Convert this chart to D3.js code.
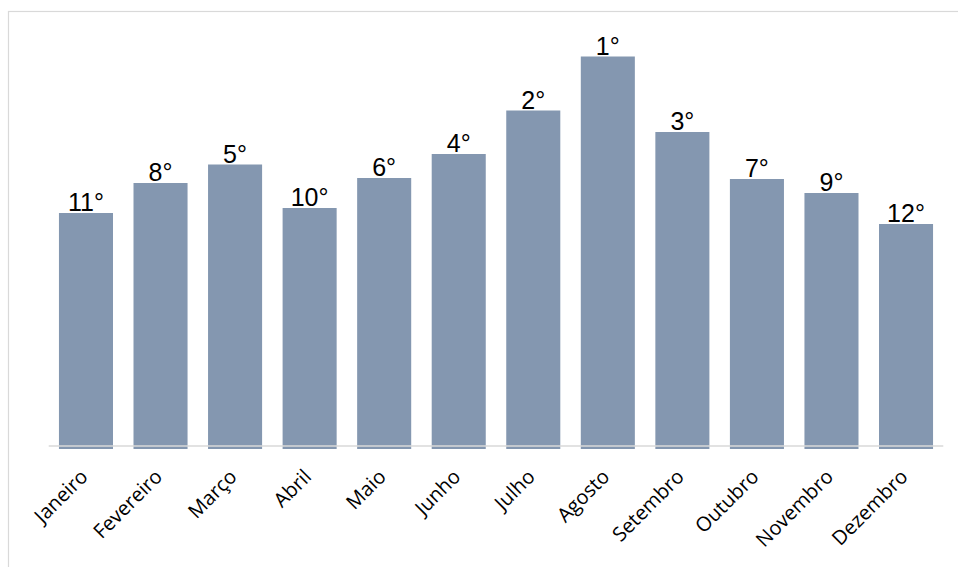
<!DOCTYPE html>
<html>
<head>
<meta charset="utf-8">
<script src="https://cdn.jsdelivr.net/npm/d3@7"></script>
<style>
  html, body { margin: 0; padding: 0; background: #fff; }
  svg { display: block; }
</style>
</head>
<body>
<svg id="chart" width="958" height="567"></svg>
<script>
// Month categories, bar values and the ranking label shown above each bar
const months = ["Janeiro", "Fevereiro", "Março", "Abril", "Maio", "Junho",
                "Julho", "Agosto", "Setembro", "Outubro", "Novembro", "Dezembro"];
const values = [235, 265, 283.5, 240, 270, 294, 337.5, 391.5, 316, 269, 255, 224];
const ranks = ["11°", "8°", "5°", "10°", "6°", "4°", "2°", "1°", "3°", "7°", "9°", "12°"];

const svg = d3.select("#chart");
const W = 958, H = 567;
const plot = { left: 48.7, right: 943.3, top: 48, bottom: 448 };

// chart frame (only top and left edges fall inside the canvas)
svg.append("rect")
  .attr("x", 8.5).attr("y", 11.5)
  .attr("width", W + 20).attr("height", H + 20)
  .attr("fill", "none").attr("stroke", "#d9d9d9").attr("stroke-width", 1.2);

const x = d3.scaleBand()
  .domain(months)
  .range([plot.left, plot.right])
  .paddingInner(0.275)
  .paddingOuter(0.1375);

const y = d3.scaleLinear()
  .domain([0, 400])
  .range([plot.bottom, plot.top]);

const data = months.map((m, i) => ({ m, v: values[i], r: ranks[i] }));

// bars
svg.append("g").selectAll("rect")
  .data(data)
  .join("rect")
  .attr("x", d => x(d.m))
  .attr("y", d => y(d.v))
  .attr("width", x.bandwidth())
  .attr("height", d => y(0) - y(d.v) + 1)
  .attr("fill", "#8497b0");

// baseline
svg.append("line")
  .attr("x1", plot.left).attr("x2", plot.right)
  .attr("y1", plot.bottom - 2).attr("y2", plot.bottom - 2)
  .attr("stroke", "#d9d9d9").attr("stroke-width", 1.5);

// rank labels above bars
svg.append("g").selectAll("text")
  .data(data)
  .join("text")
  .attr("x", d => x(d.m) + x.bandwidth() / 2)
  .attr("y", d => y(d.v) - 2)
  .attr("text-anchor", "middle")
  .attr("font-family", "Liberation Sans, Arial, sans-serif")
  .attr("font-size", 25)
  .attr("fill", "#000")
  .text(d => d.r);

// x axis with rotated month labels
const xAxis = svg.append("g")
  .attr("transform", `translate(0,${plot.bottom})`)
  .call(d3.axisBottom(x).tickSize(0).tickPadding(0));
xAxis.select(".domain").remove();
xAxis.selectAll("text")
  .attr("font-family", "Open Sans, Lato, sans-serif")
  .attr("font-size", 20)
  .attr("fill", "#000")
  .attr("text-anchor", "end")
  .attr("dy", null)
  .attr("y", null)
  .attr("transform", "translate(3,30) rotate(-45)");
</script>
</body>
</html>
